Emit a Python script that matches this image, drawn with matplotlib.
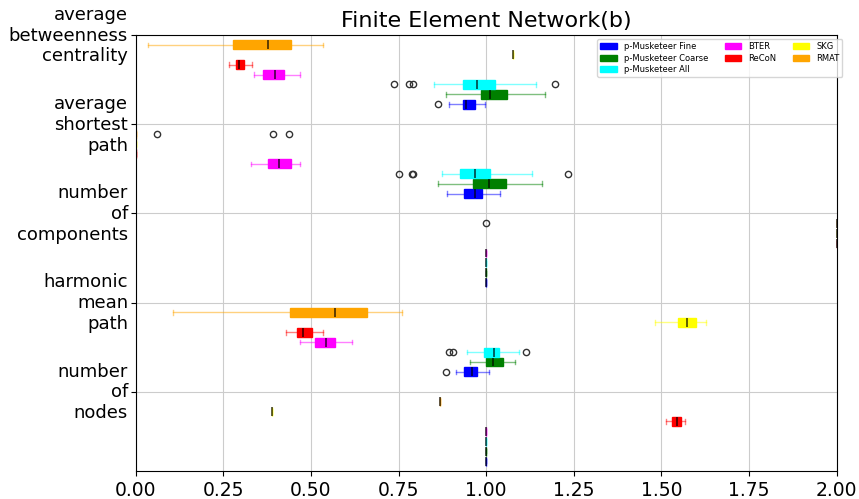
import numpy as np
import matplotlib.pyplot as plt
from matplotlib.transforms import ScaledTranslation

# metrics shown on the y axis (top to bottom)
metrics = ["average\nbetweenness\ncentrality", "average\nshortest\npath",
           "number\nof\ncomponents", "harmonic\nmean\npath", "number\nof\nnodes"]

# box stats per metric: [whislo, q1, med, q3, whishi]
rmat_stats = [[0.035, 0.278, 0.378, 0.443, 0.533],
              [0.0, 0.0, 0.0, 0.0, 0.0],
              [2.0, 2.0, 2.0, 2.0, 2.0],
              [0.106, 0.439, 0.570, 0.661, 0.761],
              [0.867, 0.867, 0.867, 0.867, 0.867]]
rmat_fliers = [[], [0.062, 0.391, 0.437], [1.0], [], []]

skg_stats = [[1.077, 1.077, 1.077, 1.077, 1.077],
             [0.0, 0.0, 0.0, 0.0, 0.0],
             [2.0, 2.0, 2.0, 2.0, 2.0],
             [1.481, 1.546, 1.573, 1.598, 1.627],
             [0.389, 0.389, 0.389, 0.389, 0.389]]
skg_fliers = [[], [], [], [], []]

recon_stats = [[0.265, 0.286, 0.296, 0.310, 0.333],
               [0.0, 0.0, 0.0, 0.0, 0.0],
               [2.0, 2.0, 2.0, 2.0, 2.0],
               [0.429, 0.460, 0.476, 0.502, 0.533],
               [1.513, 1.530, 1.544, 1.555, 1.567]]
recon_fliers = [[], [], [], [], []]

bter_stats = [[0.338, 0.363, 0.396, 0.424, 0.470],
              [0.330, 0.377, 0.410, 0.442, 0.468],
              [1.0, 1.0, 1.0, 1.0, 1.0],
              [0.470, 0.512, 0.544, 0.570, 0.617],
              [1.0, 1.0, 1.0, 1.0, 1.0]]
bter_fliers = [[], [], [], [], []]

all_stats = [[0.850, 0.934, 0.975, 1.025, 1.142],
             [0.873, 0.925, 0.969, 1.011, 1.132],
             [1.0, 1.0, 1.0, 1.0, 1.0],
             [0.946, 0.994, 1.022, 1.036, 1.095],
             [1.0, 1.0, 1.0, 1.0, 1.0]]
all_fliers = [[0.737, 0.779, 0.791, 1.195],
              [0.750, 0.789, 0.792, 1.233],
              [], [0.895, 0.905, 1.114], []]

coarse_stats = [[0.884, 0.984, 1.010, 1.058, 1.167],
                [0.863, 0.962, 1.007, 1.056, 1.159],
                [1.0, 1.0, 1.0, 1.0, 1.0],
                [0.954, 0.999, 1.019, 1.048, 1.082],
                [1.0, 1.0, 1.0, 1.0, 1.0]]
coarse_fliers = [[], [], [], [], []]

fine_stats = [[0.894, 0.935, 0.943, 0.968, 0.998],
              [0.888, 0.937, 0.968, 0.988, 1.039],
              [1.0, 1.0, 1.0, 1.0, 1.0],
              [0.914, 0.938, 0.960, 0.975, 1.009],
              [1.0, 1.0, 1.0, 1.0, 1.0]]
fine_fliers = [[0.862], [], [], [0.884], []]

# (label, colour, stats, fliers, slot inside each group)
methods = [
    ("p-Musketeer Fine", "blue", fine_stats, fine_fliers, 7),
    ("p-Musketeer Coarse", "green", coarse_stats, coarse_fliers, 6),
    ("p-Musketeer All", "cyan", all_stats, all_fliers, 5),
    ("BTER", "magenta", bter_stats, bter_fliers, 4),
    ("ReCoN", "red", recon_stats, recon_fliers, 3),
    ("SKG", "yellow", skg_stats, skg_fliers, 2),
    ("RMAT", "orange", rmat_stats, rmat_fliers, 1),
]

group_gap = 9
fig = plt.figure(figsize=(8.59, 4.99), dpi=100)
ax = fig.add_axes([0.158, 0.056, 0.816, 0.874])

handles = []
for name, col, stats, fliers, slot in methods:
    bxp_stats = []
    for s, f in zip(stats, fliers):
        bxp_stats.append(dict(whislo=s[0], q1=s[1], med=s[2], q3=s[3],
                              whishi=s[4], fliers=f))
    pos = np.arange(len(metrics)) * group_gap + slot
    bp = ax.bxp(bxp_stats, positions=pos, widths=0.9, vert=False,
                patch_artist=True, manage_ticks=False,
                boxprops=dict(facecolor=col, edgecolor=col),
                whiskerprops=dict(color=col, alpha=0.5),
                capprops=dict(color=col, alpha=0.5),
                medianprops=dict(color="black", linewidth=1.1, alpha=0.8),
                flierprops=dict(marker="o", markersize=4.5,
                                markerfacecolor="none",
                                markeredgecolor="#333333"))
    handles.append(plt.Rectangle((0, 0), 1, 1, color=col, label=name))

ax.set_ylim(44, 0)
ax.set_xlim(0, 2.0)
ax.set_yticks(np.arange(len(metrics)) * group_gap)
ax.set_yticklabels(metrics, fontsize=13)
ax.tick_params(axis="y", pad=2)
# nudge the multi-line metric names up a little
shift = ScaledTranslation(0, 2 / 72, fig.dpi_scale_trans)
for lab in ax.get_yticklabels():
    lab.set_transform(lab.get_transform() + shift)
ax.set_xticks(np.arange(0, 2.01, 0.25))
ax.set_xticklabels(["%.2f" % v for v in np.arange(0, 2.01, 0.25)], fontsize=13.5)
ax.grid(True, color="#cccccc")
ax.set_axisbelow(True)
ax.set_title("Finite Element Network(b)", fontsize=16)
ax.legend(handles=handles, ncol=3, fontsize=6, loc="upper right",
          bbox_to_anchor=(1.014, 1.0), labelspacing=0.3, borderpad=0.35)

plt.savefig("out.png")
